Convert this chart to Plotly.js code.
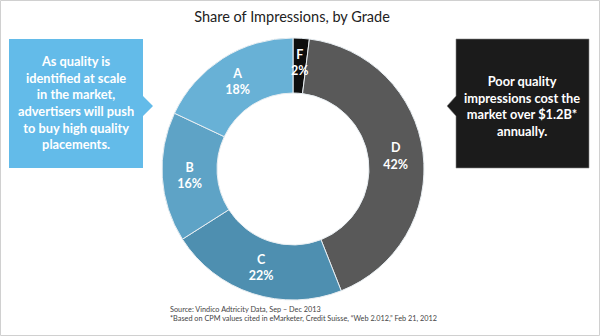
<!DOCTYPE html>
<html><head><meta charset="utf-8">
<script src="https://cdn.plot.ly/plotly-3.0.1.min.js"></script>
<style>html,body{margin:0;padding:0;background:#fff}#chart{width:600px;height:336px}</style>
</head><body><div id="chart"></div>
<script>
const grades = ['F','D','C','B','A'];
const shares = [2, 42, 22, 16, 18];
const sliceColors = ['#0e0e0e','#595959','#4e8fb0','#5ea3c6','#68b1d6'];
const titleText = 'Share of Impressions, by Grade';
const leftNote = 'As quality is<br>identified at scale<br>in the market,<br>advertisers will push<br>to buy high quality<br>placements.';
const rightNote = 'Poor quality<br>impressions cost the<br>market over $1.2B*<br>annually.';
const sourceLines = 'Source: Vindico Adtricity Data, Sep – Dec 2013<br>*Based on CPM values cited in eMarketer, Credit Suisse, “Web 2.012,” Feb 21, 2012';

const W = 600, H = 336;
const px = x => x / W, py = y => 1 - y / H;

// pie geometry (pixels)
const cx = 293, cy = 169, R = 131, holeFrac = 0.58;
const total = shares.reduce((a, b) => a + b, 0);

// slices too narrow for inside text keep full-size labels via annotations
const narrow = shares.map(v => v / total < 0.05);
const labelFont = {family: 'Lato, sans-serif', size: 12.5, color: '#ffffff'};

const trace = {
  type: 'pie',
  labels: grades,
  values: shares,
  sort: false,
  direction: 'clockwise',
  rotation: 0,
  hole: holeFrac,
  marker: {colors: sliceColors, line: {color: '#e8eef2', width: 1}},
  texttemplate: narrow.map(n => n ? '' : '<b>%{label}</b><br><b>%{value}%</b>'),
  textposition: narrow.map(n => n ? 'none' : 'inside'),
  insidetextorientation: 'horizontal',
  textfont: labelFont,
  showlegend: false,
  hoverinfo: 'none',
  domain: {x: [px(cx - R), px(cx + R)], y: [py(cy + R), py(cy - R)]}
};

const narrowAnns = [];
let cum = 0;
shares.forEach((v, i) => {
  const mid = (cum + v / 2) / total * 2 * Math.PI;
  cum += v;
  if (!narrow[i]) return;
  const rr = R * (1 + holeFrac) / 2 + 3;
  const x = cx + rr * Math.sin(mid), y = cy - rr * Math.cos(mid);
  narrowAnns.push({xref: 'paper', yref: 'paper', x: px(x), y: py(y), xanchor: 'center', yanchor: 'middle',
    text: '<b>' + grades[i] + '</b><br><b>' + v + '%</b>', showarrow: false, align: 'center', font: labelFont});
});

function pathPx(points) {
  return 'M' + points.map(p => px(p[0]) + ',' + py(p[1])).join(' L') + ' Z';
}

const layout = {
  width: W, height: H,
  margin: {l: 0, r: 0, t: 0, b: 0},
  paper_bgcolor: '#ffffff',
  title: {text: titleText, x: px(292), xanchor: 'center', y: py(17), yanchor: 'middle',
          font: {family: 'Lato, sans-serif', size: 14.5, color: '#222'}},
  shapes: [
    {type: 'path', xref: 'paper', yref: 'paper', fillcolor: '#63bbe9', line: {width: 0},
     path: pathPx([[9,39],[143,39],[143,96],[153,106],[143,116],[143,168],[9,168]])},
    {type: 'path', xref: 'paper', yref: 'paper', fillcolor: '#1b1b1b', line: {color: '#888', width: 0.6},
     path: pathPx([[456,39],[589,39],[589,168],[456,168],[456,116],[447,106],[456,96]])},
    {type: 'rect', xref: 'paper', yref: 'paper', x0: px(0.5), x1: px(599.5), y0: py(0.5), y1: py(335.5),
     line: {color: '#d0d0d0', width: 1}, fillcolor: 'rgba(0,0,0,0)'}
  ],
  annotations: [
    {xref: 'paper', yref: 'paper', x: px(76), y: py(102), xanchor: 'center', yanchor: 'middle',
     text: '<b>' + leftNote + '</b>', showarrow: false, align: 'center',
     font: {family: 'Lato, sans-serif', size: 12.8, color: '#ffffff'}},
    {xref: 'paper', yref: 'paper', x: px(522), y: py(106), xanchor: 'center', yanchor: 'middle',
     text: '<b>' + rightNote + '</b>', showarrow: false, align: 'center',
     font: {family: 'Lato, sans-serif', size: 12.8, color: '#ffffff'}},
    {xref: 'paper', yref: 'paper', x: px(168), y: py(313.5), xanchor: 'left', yanchor: 'middle',
     text: sourceLines, showarrow: false, align: 'left',
     font: {family: 'Lato, sans-serif', size: 7.3, color: '#444'}}
  ].concat(narrowAnns)
};

Plotly.newPlot('chart', [trace], layout, {staticPlot: true, displayModeBar: false});
</script></body></html>
